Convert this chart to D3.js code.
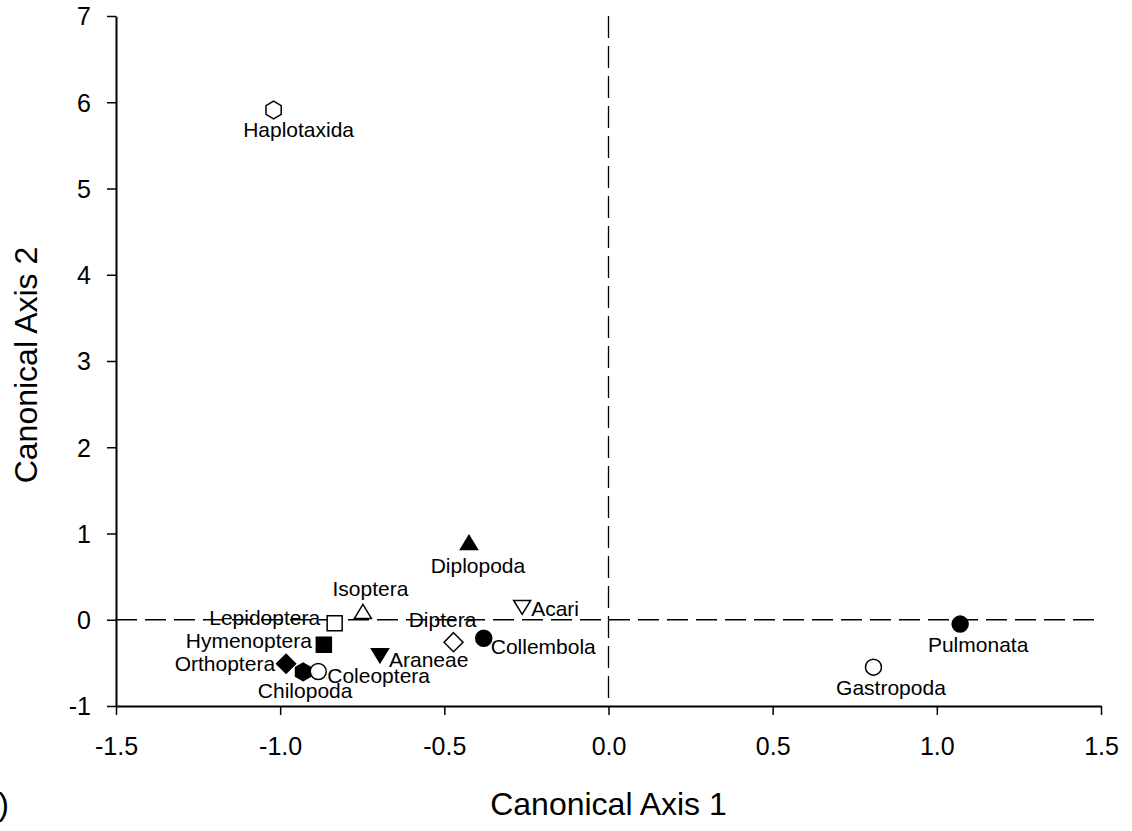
<!DOCTYPE html>
<html>
<head>
<meta charset="utf-8">
<script src="https://cdn.jsdelivr.net/npm/d3@7"></script>
<style>
  body { margin: 0; background: #fff; }
  svg text { font-family: "Liberation Sans", Arial, Helvetica, sans-serif; fill: #000; }
</style>
</head>
<body>
<svg id="chart" width="1132" height="831"></svg>
<script>
// Canonical axis scores for each soil invertebrate taxon
const taxa = ["Haplotaxida", "Diplopoda", "Isoptera", "Acari", "Lepidoptera", "Diptera", "Collembola",
              "Hymenoptera", "Araneae", "Orthoptera", "Chilopoda", "Coleoptera", "Pulmonata", "Gastropoda"];
const axis1 = [-1.02, -0.425, -0.748, -0.263, -0.834, -0.472, -0.380,
               -0.867, -0.696, -0.982, -0.930, -0.884, 1.071, 0.807];
const axis2 = [5.91, 0.87, 0.07, 0.17, -0.04, -0.26, -0.215,
               -0.29, -0.39, -0.51, -0.605, -0.60, -0.05, -0.55];
const markers = ["hexagon", "triangle", "triangle", "triangleDown", "square", "diamond", "circle",
                 "square", "triangleDown", "diamond", "hexagon", "circle", "circle", "circle"];
const filled = [false, true, false, false, false, false, true,
                true, true, true, true, false, true, false];

const xTicks = [-1.5, -1.0, -0.5, 0.0, 0.5, 1.0, 1.5];
const yTicks = [-1, 0, 1, 2, 3, 4, 5, 6, 7];
const xTitle = "Canonical Axis 1";
const yTitle = "Canonical Axis 2";

// Where each taxon name sits relative to its marker: [anchor, dx, dy]
const labelPlacement = [
  ["middle", 25, 27], ["middle", 9, 28], ["middle", 7.5, -18], ["start", 9, 11],
  ["end", -14.5, 1.5], ["middle", -11, -15], ["start", 7, 16], ["end", -12, 3],
  ["start", 9, 14], ["end", -11, 7], ["middle", 2, 26], ["start", 9, 11.5],
  ["middle", 18, 28], ["middle", 17.5, 28]
];

const svg = d3.select("#chart");
const x = d3.scaleLinear().domain([-1.5, 1.5]).range([116, 1101]);
const y = d3.scaleLinear().domain([-1, 7]).range([706, 16]);

// Marker outlines centred on the origin
function markerPath(type) {
  const p = d3.path();
  if (type === "circle") {
    p.arc(0, 0, 8, 0, 2 * Math.PI);
  } else if (type === "square") {
    p.rect(-7.5, -7.5, 15, 15);
  } else if (type === "triangle" || type === "triangleDown") {
    const w = 17, h = 14, s = type === "triangle" ? 1 : -1;
    p.moveTo(0, -s * 2 * h / 3);
    p.lineTo(w / 2, s * h / 3);
    p.lineTo(-w / 2, s * h / 3);
    p.closePath();
  } else if (type === "diamond") {
    const r = 9.5;
    p.moveTo(0, -r); p.lineTo(r, 0); p.lineTo(0, r); p.lineTo(-r, 0); p.closePath();
  } else if (type === "hexagon") {
    const r = 8.8;
    for (let i = 0; i < 6; i++) {
      const a = -Math.PI / 2 + i * Math.PI / 3;
      if (i === 0) p.moveTo(r * Math.cos(a), r * Math.sin(a));
      else p.lineTo(r * Math.cos(a), r * Math.sin(a));
    }
    p.closePath();
  }
  return p.toString();
}

// Reference lines through the origin
svg.append("line")
  .attr("x1", x(-1.5)).attr("x2", x(1.5))
  .attr("y1", y(0)).attr("y2", y(0))
  .attr("stroke", "#000").attr("stroke-width", 1.3)
  .attr("stroke-dasharray", "21,8");
svg.append("line")
  .attr("x1", x(0)).attr("x2", x(0))
  .attr("y1", y(7)).attr("y2", y(-1))
  .attr("stroke", "#000").attr("stroke-width", 1.3)
  .attr("stroke-dasharray", "22,8");

// Axes
const xAxis = svg.append("g")
  .attr("transform", `translate(0,${y(-1)})`)
  .call(d3.axisBottom(x).tickValues(xTicks).tickSize(9).tickSizeOuter(0)
        .tickFormat(d3.format(".1f")));
xAxis.select(".domain").attr("stroke-width", 2);
xAxis.selectAll(".tick line").attr("stroke-width", 1.5);
xAxis.selectAll(".tick text")
  .attr("font-size", 25).attr("y", 49).attr("dy", 0)
  .text(d => d3.format(".1f")(d).replace("\u2212", "-"));

const yAxis = svg.append("g")
  .attr("transform", `translate(${x(-1.5)},0)`)
  .call(d3.axisLeft(y).tickValues(yTicks).tickSize(9).tickSizeOuter(0)
        .tickFormat(d => String(d)));
yAxis.select(".domain").attr("stroke-width", 2);
yAxis.selectAll(".tick line").attr("stroke-width", 1.5);
yAxis.selectAll(".tick text")
  .attr("font-size", 25).attr("x", -25).attr("dy", "0.35em");

// Axis titles
svg.append("text")
  .attr("x", x(0)).attr("y", 815)
  .attr("text-anchor", "middle").attr("font-size", 32)
  .text(xTitle);
svg.append("text")
  .attr("transform", `translate(37,${365}) rotate(-90)`)
  .attr("text-anchor", "middle").attr("font-size", 32)
  .text(yTitle);

// Panel letter at the left edge
svg.append("text")
  .attr("x", 9).attr("y", 815)
  .attr("text-anchor", "end").attr("font-size", 32)
  .text("(b)");

// Taxon markers and names
const points = taxa.map((name, i) => ({
  name, a1: axis1[i], a2: axis2[i], shape: markers[i], fill: filled[i], place: labelPlacement[i]
}));

const g = svg.append("g");
g.selectAll("path.mark")
  .data(points)
  .join("path")
  .attr("class", "mark")
  .attr("transform", d => `translate(${x(d.a1)},${y(d.a2)})`)
  .attr("d", d => markerPath(d.shape))
  .attr("fill", d => d.fill ? "#000" : "#fff")
  .attr("stroke", "#000")
  .attr("stroke-width", 1.5);

g.selectAll("text.label")
  .data(points)
  .join("text")
  .attr("class", "label")
  .attr("x", d => x(d.a1) + d.place[1])
  .attr("y", d => y(d.a2) + d.place[2])
  .attr("text-anchor", d => d.place[0])
  .attr("font-size", 21)
  .text(d => d.name);
</script>
</body>
</html>
